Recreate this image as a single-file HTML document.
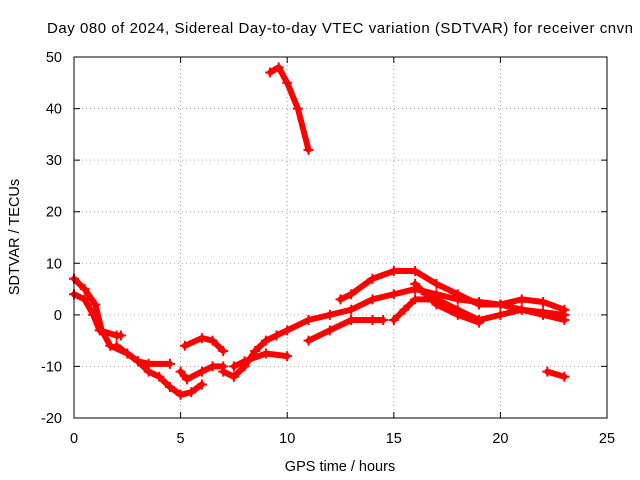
<!DOCTYPE html>
<html><head><meta charset="utf-8"><style>
body{margin:0;background:#fff;}
svg{display:block;font-family:"Liberation Sans",sans-serif;}
</style></head><body>
<svg id="chart" width="640" height="480" viewBox="0 0 640 480">
<text x="47" y="33" font-size="15" fill="#000" textLength="586" lengthAdjust="spacing">Day 080 of 2024, Sidereal Day-to-day VTEC variation (SDTVAR) for receiver cnvn</text>
<g id="grid"></g>
<g id="ticks"></g>
<g id="series"></g>
<rect x="74" y="57" width="533" height="361" fill="none" stroke="#000" stroke-width="1"/>
<text x="340" y="471" font-size="14.5" text-anchor="middle">GPS time / hours</text>
<text transform="translate(19,237) rotate(-90)" font-size="14.5" text-anchor="middle">SDTVAR / TECUs</text>
</svg>
<script>
const xTicks=[0,5,10,15,20,25];
const yTicks=[-20,-10,0,10,20,30,40,50];
const trackA=[[0,7],[0.5,5],[1,2],[1.3,-3],[1.7,-6],[2.5,-7.5],[3,-9],[3.5,-9.5],[4.5,-9.5]];
const trackB=[[0,4],[0.5,3],[0.9,0],[1.2,-3],[2,-4],[2.2,-4]];
const trackC=[[2,-6],[3,-9],[3.5,-11],[4,-12],[4.5,-14],[5,-15.5],[5.5,-15],[6,-13.5]];
const trackD=[[5,-11],[5.3,-12.5],[6,-11],[6.5,-10],[7,-10]];
const trackE=[[5.2,-6],[6,-4.5],[6.5,-5],[7,-7]];
const trackF=[[7,-11],[7.5,-12],[8,-10],[8.5,-7],[9,-5],[9.5,-4],[10,-3],[11,-1],[12,0],[13,1],[14,3],[15,4],[16,5],[17,4],[18,3],[19,2.5],[20,2],[21,1],[22,0.5],[23,0]];
const trackG=[[7.5,-10],[8,-9],[9,-7.5],[10,-8]];
const trackH=[[11,-5],[12,-3],[13,-1],[14,-1],[14.5,-1]];
const trackI=[[12.5,3],[13,4],[14,7],[15,8.5],[16,8.5],[17,6],[18,4],[19,2],[20,2],[21,3],[22,2.5],[23,1]];
const trackJ=[[15,-1],[15.5,1],[16,3],[17,3],[18,1],[19,-1],[20,0],[21,1],[22,0],[23,-1]];
const trackK=[[9.2,47],[9.6,48],[10,45],[10.5,40],[11,32]];
const trackL=[[22.2,-11],[23,-12]];
const trackM=[[16,6],[16.5,4],[17,2],[18,0],[19,-1.5]];
const tracks=[trackA,trackB,trackC,trackD,trackE,trackF,trackG,trackH,trackI,trackJ,trackK,trackL,trackM];
const NS='http://www.w3.org/2000/svg';
const X=v=>74+(v-0)*(533/25);
const Y=v=>418-(v+20)*(361/70);
const grid=document.getElementById('grid'),ticks=document.getElementById('ticks'),ser=document.getElementById('series');
function mk(t,a,p){const e=document.createElementNS(NS,t);for(const k in a)e.setAttribute(k,a[k]);p.appendChild(e);return e;}
xTicks.forEach(v=>{
  if(v>0&&v<25){const g=mk('line',{x1:X(v),x2:X(v),y1:57,y2:418,stroke:'#a0a0a0','stroke-dasharray':'1,3'},grid);
  
  }
  const tm=mk('path',{d:`M${X(v)},418v-6M${X(v)},57v6`,stroke:'#000'},ticks);
  
  
  const t=mk('text',{x:X(v),y:443,'font-size':14.5,'text-anchor':'middle'},ticks);t.textContent=v;
  
  
});
yTicks.forEach(v=>{
  if(v>-20&&v<50){const g=mk('line',{x1:74,x2:607,y1:Y(v),y2:Y(v),stroke:'#a0a0a0','stroke-dasharray':'1,3'},grid);
  
  }
  const tm=mk('path',{d:`M74,${Y(v)}h6M607,${Y(v)}h-6`,stroke:'#000'},ticks);
  
  
  const t=mk('text',{x:62,y:Y(v)+5,'font-size':14.5,'text-anchor':'end'},ticks);t.textContent=v;
  
  
});
tracks.forEach(tr=>{
  const p=mk('polyline',{points:tr.map(d=>X(d[0])+','+Y(d[1])).join(' '),fill:'none',stroke:'#f00','stroke-width':6,'stroke-linejoin':'round','stroke-linecap':'round'},ser);
  
  
  tr.forEach(d=>{
    const m=mk('path',{d:`M${X(d[0])-5},${Y(d[1])}h10M${X(d[0])},${Y(d[1])-5}v10`,stroke:'#f00','stroke-width':2},ser);
    
    
  });
});
</script>
</body></html>
